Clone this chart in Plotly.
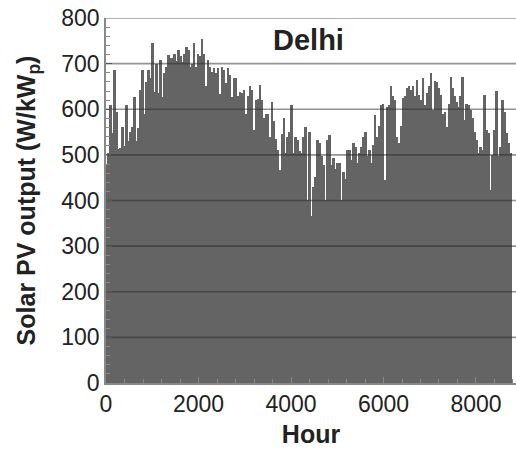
import plotly.graph_objects as go

# Peak solar PV output, one value per ~43-hour bin across the year (W/kWp)
pv_output = [
    480, 505, 610, 548, 686, 594, 513, 515, 561, 520,
    610, 530, 550, 561, 627, 530, 558, 642, 686, 590,
    660, 686, 668, 745, 638, 700, 635, 707, 627, 680,
    693, 719, 712, 712,
    722, 705, 730, 716, 703, 722, 737, 730, 693, 700,
    745, 693, 722, 716, 755, 722, 650, 707, 693, 682,
    690, 679, 690, 633, 693, 686, 657, 690, 675, 626,
    668, 668, 630,
    638, 635, 642, 590, 630, 650, 642, 554, 620, 623,
    653, 620, 580, 590, 590, 540, 615, 575, 535, 511,
    467, 545, 580, 504, 540, 551, 610, 504, 540, 533,
    508, 504, 540, 562,
    401, 551, 365, 430, 452, 533, 526, 497, 477, 401,
    533, 544, 477, 493, 470, 482, 482, 401, 463, 448,
    511, 511, 489, 526, 518, 482, 504, 518, 540, 551,
    497, 511, 482, 522,
    587, 540, 563, 609, 611, 445, 606, 609, 650, 628,
    620, 540, 526, 563, 624, 628, 646, 650, 643, 650,
    628, 664, 631, 620, 668, 609, 635, 650, 679, 599,
    662, 660, 646, 631,
    590, 595, 562, 611, 671, 646, 628, 616, 606, 628,
    671, 577, 611, 609, 599, 580, 551, 533, 504, 518,
    511, 631, 555, 547, 423, 500, 555, 640, 497, 518,
    620, 595, 547, 526, 504,
]
bin_hours = 43
hours = [(i + 0.5) * bin_hours for i in range(len(pv_output))]

x_ticks = [0, 2000, 4000, 6000, 8000]
y_ticks = [0, 100, 200, 300, 400, 500, 600, 700, 800]

fig = go.Figure()
fig.add_trace(go.Bar(
    x=hours, y=pv_output, width=bin_hours,
    marker=dict(color="#646464", line=dict(width=0)),
    hoverinfo="x+y",
))

shapes = []
for v in y_ticks[1:]:
    shapes.append(dict(type="line", xref="paper", x0=0, x1=1, yref="y", y0=v, y1=v,
                       line=dict(color="rgba(40,40,40,0.5)", width=1.6), layer="above"))
fig.update_layout(shapes=shapes)

font_family = "Liberation Sans, Arial, sans-serif"
fig.update_layout(
    width=516, height=455,
    margin=dict(l=106, r=0, t=18, b=72, autoexpand=False),
    paper_bgcolor="white", plot_bgcolor="white",
    bargap=0, showlegend=False,
    font=dict(family=font_family, size=23, color="#222222"),
    xaxis=dict(
        range=[0, 8865], tickvals=x_ticks, ticktext=[str(t) for t in x_ticks],
        ticks="inside", ticklen=6, tickcolor="#888888",
        minor=dict(dtick=400, tick0=0, ticks="inside", ticklen=4, tickcolor="#888888"),
        showgrid=False, zeroline=False, automargin=False,
        showline=True, linecolor="#888888", linewidth=1.5,
        title=dict(text="<b>Hour</b>", font=dict(size=25, color="#222222"), standoff=9),
        tickfont=dict(size=23, color="#222222"),
    ),
    yaxis=dict(
        range=[0, 800], tickvals=y_ticks, ticktext=[str(t) for t in y_ticks],
        ticks="inside", ticklen=6, tickcolor="#888888",
        minor=dict(dtick=20, tick0=0, ticks="inside", ticklen=4, tickcolor="#888888"),
        showgrid=False, zeroline=False, automargin=False,
        showline=True, linecolor="#888888", linewidth=1.5,
        title=dict(text="<b>Solar PV output (W/kW<sub>p</sub>)</b>",
                   font=dict(size=25, color="#222222"), standoff=19),
        tickfont=dict(size=23, color="#222222"),
    ),
    annotations=[dict(
        x=4370, y=752, xref="x", yref="y", text="<b>Delhi</b>", showarrow=False,
        font=dict(size=29, color="#222222", family=font_family),
    )],
)

fig.write_html("out.html", config={"displayModeBar": False},
               post_script="document.body.style.margin='0';")
